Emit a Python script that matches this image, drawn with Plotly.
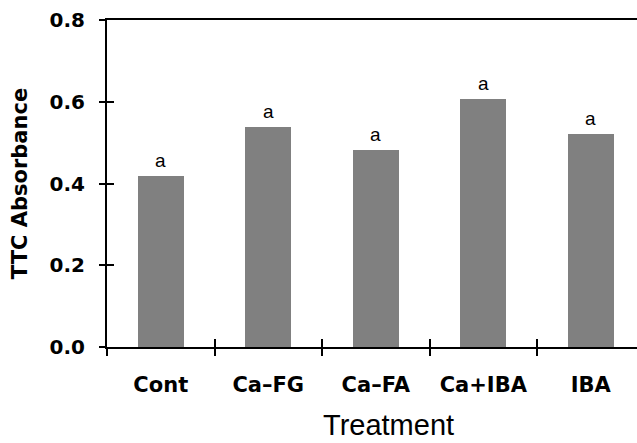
import plotly.graph_objects as go

categories = ["Cont", "Ca\u2013FG", "Ca\u2013FA", "Ca+IBA", "IBA"]
values = [0.418, 0.538, 0.481, 0.607, 0.521]
letters = ["a", "a", "a", "a", "a"]
y_ticks = [0.0, 0.2, 0.4, 0.6, 0.8]
y_tick_text = ["0.0", "0.2", "0.4", "0.6", "0.8"]
x_title = "Treatment"
y_title = "TTC Absorbance"

xpos = list(range(len(categories)))
boundaries = [i - 0.5 for i in range(len(categories) + 1)]

fig = go.Figure()
fig.add_trace(go.Bar(x=xpos, y=values, width=0.43, marker=dict(color="#808080", line=dict(width=0)),
                     hoverinfo="skip"))
# invisible traces hosting the overlay axes (halves of the crossing ticks)
fig.add_trace(go.Bar(x=xpos, y=values, width=0.43, opacity=0, xaxis="x2", yaxis="y2",
                     hoverinfo="skip", showlegend=False))
fig.add_trace(go.Bar(x=xpos, y=values, width=0.43, opacity=0, xaxis="x3", yaxis="y2",
                     hoverinfo="skip", showlegend=False))

for xi, v, t in zip(xpos, values, letters):
    fig.add_annotation(x=xi, y=v, text=t, showarrow=False, yanchor="bottom", yshift=3,
                       font=dict(family="Liberation Sans, Arial", size=19, color="black"))

fig.add_annotation(x=0.532, y=0, xref="paper", yref="paper", yanchor="bottom", yshift=-95,
                   text=x_title, showarrow=False, borderpad=0,
                   font=dict(family="Liberation Sans, Arial", size=29, color="black"))

xr = [-0.5, 4.43]
yr = [0, 0.8]
tick_style = dict(tickwidth=1.5, tickcolor="black")
fig.update_layout(
    width=637, height=443,
    margin=dict(l=107, r=0, t=20, b=96),
    paper_bgcolor="white", plot_bgcolor="white",
    showlegend=False, bargap=0,
    xaxis=dict(range=xr, tickmode="array", tickvals=xpos, ticktext=categories, automargin=False,
               showgrid=False, zeroline=False, showline=True, linecolor="black", linewidth=2,
               mirror=True, ticks="", ticklabelstandoff=18,
               tickfont=dict(family="DejaVu Sans", size=21, color="black", weight="bold")),
    xaxis2=dict(range=xr, overlaying="x", tickmode="array", tickvals=boundaries, ticktext=[""] * len(boundaries),
                ticks="outside", ticklen=8, automargin=False, **tick_style,
                showgrid=False, zeroline=False, showline=False, side="bottom", anchor="y2"),
    xaxis3=dict(range=xr, overlaying="x", tickmode="array", tickvals=boundaries, ticktext=[""] * len(boundaries),
                ticks="inside", ticklen=8, automargin=False, **tick_style,
                showgrid=False, zeroline=False, showline=False, side="bottom", anchor="y2"),
    yaxis=dict(range=yr, tickmode="array", tickvals=y_ticks, ticktext=y_tick_text, automargin=False,
               showgrid=False, zeroline=False, showline=True, linecolor="black", linewidth=2,
               ticks="outside", ticklen=6, ticklabelstandoff=10, **tick_style,
               tickfont=dict(family="DejaVu Sans", size=20, color="black", weight="bold"),
               title=dict(text=y_title, font=dict(family="DejaVu Sans", size=21,
                                                  color="black", weight="bold"), standoff=16)),
    yaxis2=dict(range=yr, overlaying="y", tickmode="array", tickvals=y_ticks, ticktext=[""] * len(y_ticks),
                automargin=False, ticks="inside", ticklen=7, **tick_style,
                showgrid=False, zeroline=False, showline=False, side="left", anchor="x2"),
)
fig.write_html("out.html", config={"displayModeBar": False},
               post_script="document.body.style.margin='0';document.body.style.overflow='hidden';")
